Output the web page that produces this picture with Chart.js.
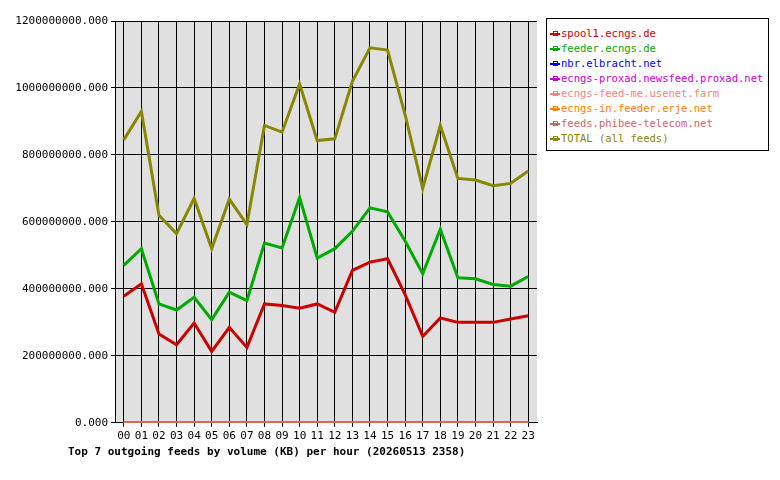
<!DOCTYPE html>
<html><head>
<script src="https://cdn.jsdelivr.net/npm/chart.js@4/dist/chart.umd.min.js"></script>
<style>
body{margin:0;background:#fff;font-family:"DejaVu Sans Mono",monospace;}
#wrap{position:absolute;left:0;top:0;width:780px;height:480px;}
#legend{position:absolute;left:546px;top:18px;width:223px;height:133px;border:1px solid #000;background:#fff;font-size:10.5px;padding:7px 0 0 0;box-sizing:border-box;white-space:nowrap;}
.li{height:15px;line-height:15px;position:relative;padding-left:14px;}
.li span.m{position:absolute;left:3px;top:7px;width:10px;height:2px;}
.li span.d{position:absolute;left:6px;top:5px;width:3px;height:3px;border:1px solid;}
#title{position:absolute;left:68px;top:445px;font-size:11px;font-weight:bold;}
</style></head><body>
<div id="wrap"><canvas id="c" width="780" height="480"></canvas></div>
<div id="legend"></div>
<div id="title">Top 7 outgoing feeds by volume (KB) per hour (20260513 2358)</div>
<script>
var hours = ['00','01','02','03','04','05','06','07','08','09','10','11','12','13','14','15','16','17','18','19','20','21','22','23'];
var feedNames = ['spool1.ecngs.de','feeder.ecngs.de','nbr.elbracht.net','ecngs-proxad.newsfeed.proxad.net','ecngs-feed-me.usenet.farm','ecngs-in.feeder.erje.net','feeds.phibee-telecom.net','TOTAL (all feeds)'];
var feedColors = ['#cc0000','#00aa00','#0000ff','#cc00cc','#ff8080','#ff8000','#cc6666','#888800'];
var spool1 = [378,415,265,233,298,213,285,225,355,350,342,355,330,455,480,490,383,258,313,300,300,300,310,320];
var feeder = [470,520,355,337,375,308,390,365,537,522,673,492,520,572,642,630,543,445,578,433,430,413,408,437];
var nbr = [0,0,0,0,0,0,0,0,0,0,0,0,0,0,0,0,0,0,0,0,0,0,0,0];
var proxad = [0,0,0,0,0,0,0,0,0,0,0,0,0,0,0,0,0,0,0,0,0,0,0,0];
var usenetFarm = [0,0,0,0,0,0,0,0,0,0,0,0,0,0,0,0,0,0,0,0,0,0,0,0];
var erje = [0,0,0,0,0,0,0,0,0,0,0,0,0,0,0,0,0,0,0,0,0,0,0,0];
var phibee = [0,0,0,0,0,0,0,0,0,0,0,0,0,0,0,0,0,0,0,0,0,0,0,0];
var total = [845,930,620,565,670,520,668,592,888,868,1012,843,848,1020,1120,1113,920,700,888,730,725,708,715,752];
var series = [spool1,feeder,nbr,proxad,usenetFarm,erje,phibee,total];

var lg = document.getElementById('legend');
feedNames.forEach(function(n,i){
  lg.innerHTML += '<div class="li" style="color:'+feedColors[i]+'"><span class="m" style="background:'+feedColors[i]+'"></span><span class="d" style="border-color:'+feedColors[i]+'"></span>'+n+'</div>';
});

var ds = [];
for (var i = series.length-1; i >= 0; i--) {
  ds.push({label: feedNames[i], data: series[i].map(function(v){return v*1e6;}),
    borderColor: feedColors[i], borderWidth: 3, pointRadius: 0, fill: false, tension: 0});
}
new Chart(document.getElementById('c').getContext('2d'), {
  type: 'line',
  data: {labels: hours, datasets: ds},
  options: {
    responsive: false, animation: false,
    layout: {padding: {left: 0, right: 243, top: 21, bottom: 34}},
    plugins: {legend: {display: false}, tooltip: {enabled: false}},
    scales: {
      x: {offset: true, grid: {color: '#000', lineWidth: 1, offset: false, drawTicks: true, tickLength: 4},
          border: {color: '#000'},
          ticks: {color: '#000', font: {family: 'DejaVu Sans Mono', size: 11}, maxRotation: 0, autoSkip: false}},
      y: {min: 0, max: 1.2e9, grid: {color: '#000', tickLength: 4}, border: {color: '#000'},
          afterFit: function(s){ s.width = 115; },
          ticks: {stepSize: 2e8, color: '#000', font: {family: 'DejaVu Sans Mono', size: 11},
                  callback: function(v){ return v.toFixed(3); }}}
    }
  },
  plugins: [{id: 'bg', beforeDraw: function(ch){
    var a = ch.chartArea, c = ch.ctx; c.save(); c.fillStyle = '#e0e0e0';
    c.fillRect(a.left, a.top, a.right-a.left, a.bottom-a.top); c.restore();
  }}]
});
</script>
</body></html>
